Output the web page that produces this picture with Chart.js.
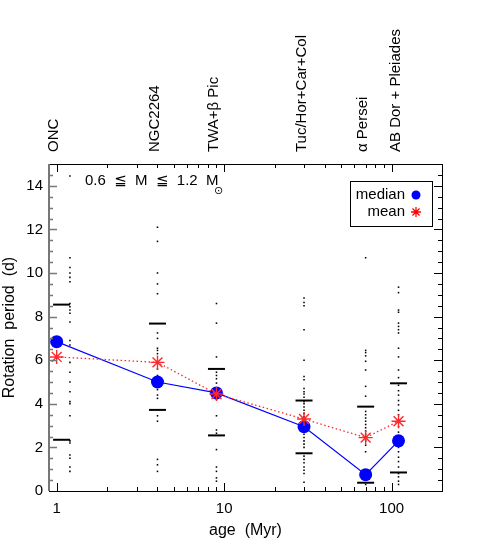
<!DOCTYPE html>
<html>
<head>
<meta charset="utf-8">
<script src="https://cdn.jsdelivr.net/npm/chart.js@4/dist/chart.umd.min.js"></script>
<style>
html, body { margin: 0; padding: 0; background: #fff; }
</style>
</head>
<body>
<canvas id="grafico" width="491" height="545"></canvas>
<script>
// grupos e idades (Myr)
const grupos = ['ONC', 'NGC2264', 'TWA+\u03B2 Pic', 'Tuc/Hor+Car+Col', '\u03B1 Persei', 'AB Dor + Pleiades'];
const idades = [1, 4, 9, 30, 70, 110];
const idadePontos = [1.2, 4, 9, 30, 70, 110];
const idadeBarras = [1.07, 4, 9, 30, 70, 110];

// medianas e medias do periodo de rotacao (d)
const medianas = [6.85, 5.0, 4.5, 2.95, 0.75, 2.3];
const medias = [6.15, 5.9, 4.45, 3.3, 2.45, 3.2];

// quartis (barras horizontais)
const quartilSup = [8.55, 7.68, 5.6, 4.15, 3.87, 4.94];
const quartilInf = [2.35, 3.72, 2.55, 1.73, 0.38, 0.85];

// periodos individuais de cada grupo
const perONC = [14.45, 10.7, 10.25, 10.0, 9.8, 9.6, 8.6, 8.45, 8.3, 8.15, 7.75, 6.9, 6.7, 5.9, 5.45, 5.0, 4.55, 4.1, 4.0, 3.45, 2.3, 2.2, 1.65, 1.5, 1.1, 0.9];
const perNGC = [12.1, 11.45, 10.0, 9.5, 9.05, 7.25, 7.0, 6.55, 6.45, 6.3, 5.6, 5.3, 4.65, 4.4, 4.25, 3.45, 3.2, 1.45, 1.2, 0.9];
const perTWA = [8.6, 7.7, 6.15, 5.45, 5.3, 5.15, 4.95, 4.7, 4.35, 4.2, 3.45, 2.8, 2.65, 1.9, 1.1, 0.9, 0.6, 0.45];
const perTuc = [8.85, 8.65, 8.5, 7.4, 6.0, 5.25, 5.1, 4.7, 4.55, 4.45, 4.3, 4.1, 4.0, 3.85, 3.7, 3.55, 3.4, 3.1, 2.8, 2.6, 2.45, 2.3, 2.15, 2.0, 1.6, 1.45, 1.3, 1.1, 0.95, 0.8, 0.4];
const perAPer = [10.7, 6.45, 6.35, 6.2, 5.95, 5.55, 4.8, 4.35, 3.65, 3.5, 3.35, 3.2, 3.05, 2.9, 2.75, 2.6, 2.3, 2.1, 1.8, 0.55, 0.3];
const perABDor = [9.35, 9.1, 8.3, 8.2, 7.7, 7.55, 7.4, 7.25, 6.55, 6.15, 5.55, 5.2, 4.85, 4.6, 4.4, 4.15, 3.95, 3.7, 3.5, 3.25, 2.95, 2.7, 2.5, 2.2, 2.0, 1.8, 1.55, 1.35, 1.1, 0.8, 0.65, 0.45, 0.3];
const periodos = [perONC, perNGC, perTWA, perTuc, perAPer, perABDor];

// eixos
const xTicks = [1, 10, 100];
const yTicks = [0, 2, 4, 6, 8, 10, 12, 14];

const fonte = "'Liberation Sans', 'DejaVu Sans', sans-serif";

var pontos = [];
periodos.forEach(function (lista, i) {
  lista.forEach(function (p) { pontos.push({ x: idadePontos[i], y: p }); });
});

var barras = [];
for (let i = 0; i < idades.length; i++) {
  barras.push({ x: idadeBarras[i], y: quartilSup[i] });
  barras.push({ x: idadeBarras[i], y: quartilInf[i] });
}

// moldura, ticks internos, rotulos de cima, legenda e anotacao
const molduraPlugin = {
  id: 'moldura',
  afterDraw(chart) {
    const ctx = chart.ctx;
    const a = chart.chartArea;
    const xs = chart.scales.x;
    const ys = chart.scales.y;
    ctx.save();
    ctx.strokeStyle = '#000';
    ctx.lineWidth = 1;
    ctx.strokeRect(a.left + 0.5, a.top + 0.5, a.right - a.left, a.bottom - a.top);

    ctx.beginPath();
    for (let d = 0.1; d <= 100; d *= 10) {
      for (let m = 1; m <= 9; m++) {
        const v = m * d;
        if (v <= xs.min || v >= xs.max) continue;
        const px = Math.round(xs.getPixelForValue(v)) + 0.5;
        const len = m === 1 ? 8 : 4;
        ctx.moveTo(px, a.bottom); ctx.lineTo(px, a.bottom - len);
        ctx.moveTo(px, a.top); ctx.lineTo(px, a.top + len);
      }
    }
    for (let v = 0.5; v < 15; v += 0.5) {
      const py = Math.round(ys.getPixelForValue(v)) + 0.5;
      const len = v % 2 === 0 ? 8 : 4;
      ctx.moveTo(a.right, py); ctx.lineTo(a.right - len, py);
    }
    ctx.stroke();

    // eixo esquerdo cinza, mais grosso
    ctx.strokeStyle = '#777';
    ctx.lineWidth = 2;
    ctx.beginPath();
    ctx.moveTo(a.left, a.top); ctx.lineTo(a.left, a.bottom);
    ctx.stroke();
    ctx.lineWidth = 1.3;
    ctx.beginPath();
    for (let v = 0.5; v < 15; v += 0.5) {
      const py = Math.round(ys.getPixelForValue(v)) + 0.5;
      const len = v % 2 === 0 ? 8 : 4;
      ctx.moveTo(a.left, py); ctx.lineTo(a.left + len, py);
    }
    ctx.stroke();

    // nomes dos grupos no topo
    ctx.fillStyle = '#000';
    ctx.strokeStyle = '#000';
    ctx.lineWidth = 1;
    ctx.font = '15px ' + fonte;
    ctx.textAlign = 'left';
    ctx.textBaseline = 'alphabetic';
    grupos.forEach(function (g, i) {
      const px = xs.getPixelForValue(idades[i]);
      ctx.save();
      ctx.translate(px + 1.5, a.top - 12);
      ctx.rotate(-Math.PI / 2);
      ctx.fillText(g, 0, 0);
      ctx.restore();
    });

    // anotacao de massa
    ctx.textBaseline = 'middle';
    ctx.font = '15px ' + fonte;
    ctx.fillText('0.6  \u2266  M  \u2266  1.2  M', 85, a.top + 17);
    ctx.font = '11px ' + fonte;
    ctx.fillText('\u2299', 214, a.top + 27);

    // legenda
    const lx = 350, ly = 181, lw = 82, lh = 45;
    ctx.fillStyle = '#fff';
    ctx.fillRect(lx, ly, lw, lh);
    ctx.strokeRect(lx + 0.5, ly + 0.5, lw, lh);
    ctx.fillStyle = '#000';
    ctx.font = '15px ' + fonte;
    ctx.textAlign = 'right';
    ctx.fillText('median', 405, ly + 14);
    ctx.fillText('mean', 405, ly + 31);
    ctx.fillStyle = 'blue';
    ctx.strokeStyle = 'blue';
    Chart.helpers.drawPoint(ctx, { pointStyle: 'circle', radius: 4.5, borderWidth: 0 }, 416, ly + 14);
    ctx.fillStyle = 'red';
    ctx.strokeStyle = 'red';
    ctx.lineWidth = 1.3;
    Chart.helpers.drawPoint(ctx, { pointStyle: 'star', radius: 5, borderWidth: 1.3 }, 416, ly + 31);
    ctx.restore();
  }
};

var ctx = document.getElementById('grafico').getContext('2d');
var grafico = new Chart(ctx, {
  type: 'scatter',
  data: {
    datasets: [
      {
        label: 'mean',
        data: idades.map(function (x, i) { return { x: x, y: medias[i] }; }),
        showLine: true,
        borderColor: 'rgb(255, 40, 40)',
        backgroundColor: 'rgb(255, 40, 40)',
        borderWidth: 1.3,
        borderDash: [1.5, 2.5],
        pointStyle: 'star',
        pointRadius: 7,
        pointBorderWidth: 1.4,
        order: 0
      },
      {
        label: 'median',
        data: idades.map(function (x, i) { return { x: x, y: medianas[i] }; }),
        showLine: true,
        borderColor: 'blue',
        backgroundColor: 'blue',
        borderWidth: 1.2,
        pointStyle: 'circle',
        pointRadius: 6.5,
        pointBorderWidth: 0,
        order: 1
      },
      {
        label: 'quartis',
        data: barras,
        showLine: false,
        borderColor: '#000',
        pointStyle: 'line',
        pointRadius: 8.5,
        pointBorderWidth: 2,
        order: 2
      },
      {
        label: 'periodos',
        data: pontos,
        showLine: false,
        backgroundColor: '#000',
        borderColor: '#000',
        pointStyle: 'rect',
        pointRadius: 1.1,
        pointBorderWidth: 0,
        order: 3
      }
    ]
  },
  options: {
    responsive: false,
    animation: false,
    layout: { padding: { left: 0, top: 164, right: 49, bottom: 0 } },
    plugins: { legend: { display: false }, tooltip: { enabled: false } },
    scales: {
      x: {
        type: 'logarithmic',
        min: 0.9,
        max: 200,
        afterBuildTicks: function (s) { s.ticks = xTicks.map(function (v) { return { value: v }; }); },
        afterFit: function (s) { s.height = 54; },
        grid: { display: false, drawTicks: false },
        border: { display: false },
        ticks: {
          color: '#000', padding: 9, maxRotation: 0,
          font: { family: fonte, size: 15 },
          callback: function (v) { return String(v); }
        },
        title: { display: true, text: 'age  (Myr)', color: '#000', font: { family: fonte, size: 16 }, padding: { top: 0, bottom: 5 } }
      },
      y: {
        type: 'linear',
        min: 0,
        max: 15,
        afterBuildTicks: function (s) { s.ticks = yTicks.map(function (v) { return { value: v }; }); },
        afterFit: function (s) { s.width = 49; },
        grid: { display: false, drawTicks: false },
        border: { display: false },
        ticks: { color: '#000', padding: 6, font: { family: fonte, size: 15 } },
        title: { display: true, text: 'Rotation  period  (d)', color: '#000', font: { family: fonte, size: 16 }, padding: { top: 0, bottom: 0 } }
      }
    }
  },
  plugins: [molduraPlugin]
});
</script>
</body>
</html>
